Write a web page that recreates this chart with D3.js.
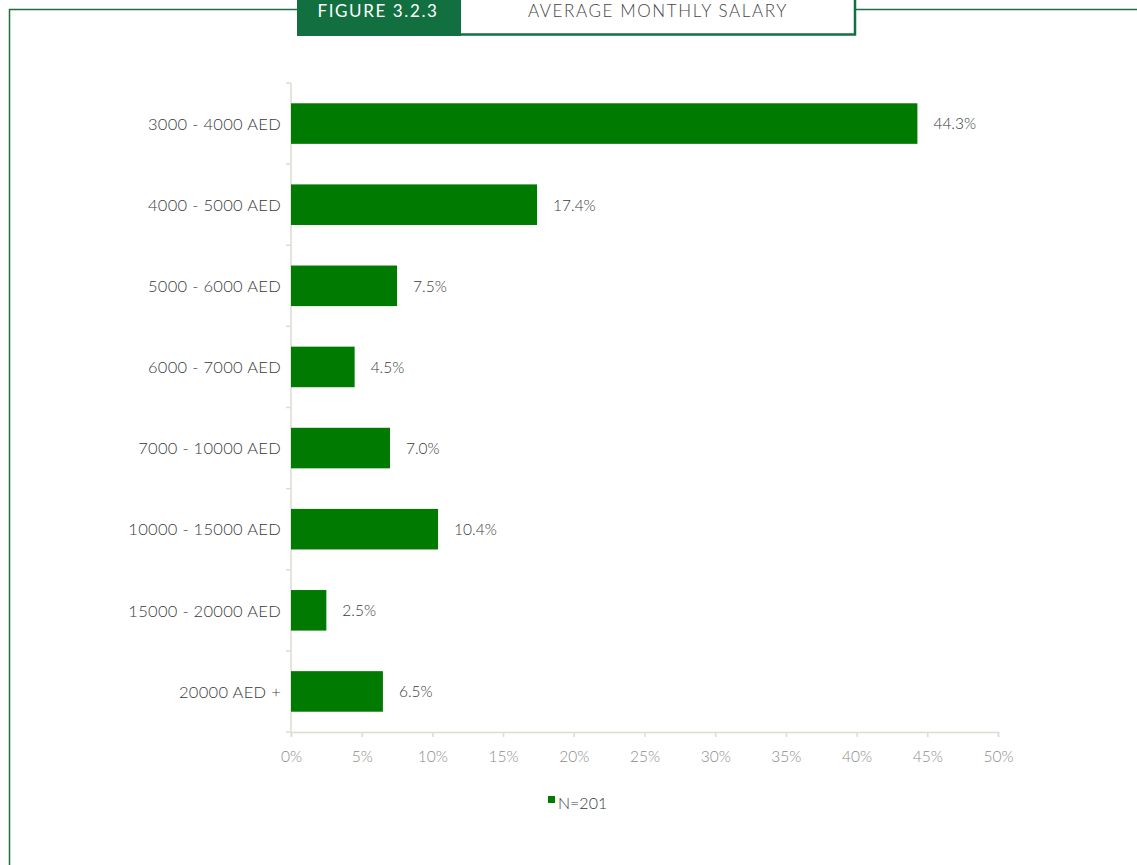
<!DOCTYPE html>
<html><head><meta charset="utf-8">
<script src="https://cdn.jsdelivr.net/npm/d3@7"></script>
<style>body{margin:0;background:#fff;} svg{display:block;}</style>
</head><body>
<svg id="chart" width="1137" height="865"></svg>
<script>
const categories = ["3000 - 4000 AED","4000 - 5000 AED","5000 - 6000 AED","6000 - 7000 AED","7000  - 10000 AED","10000 - 15000 AED","15000 - 20000 AED","20000 AED +"];
const values = [44.3, 17.4, 7.5, 4.5, 7.0, 10.4, 2.5, 6.5];
const valueLabels = ["44.3%","17.4%","7.5%","4.5%","7.0%","10.4%","2.5%","6.5%"];
const xTicks = [0,5,10,15,20,25,30,35,40,45,50];
const seriesName = "N=201";
const figureLabel = "FIGURE 3.2.3";
const title = "AVERAGE MONTHLY SALARY";

const svg = d3.select("#chart");
const font = "Lato, 'Open Sans', sans-serif";
const frameGreen = "#1d6f42";

// frame
svg.append("path").attr("d","M9.5,865 V9.5 H298 M856,9.5 H1137")
  .attr("fill","none").attr("stroke",frameGreen).attr("stroke-width",1.5);
svg.append("rect").attr("x",297).attr("y",0).attr("width",164).attr("height",36).attr("fill","#127040");
svg.append("path").attr("d","M461,34.5 H855 V0").attr("fill","none").attr("stroke","#127040").attr("stroke-width",2.5);
svg.append("text").attr("x",378).attr("y",16.5).attr("text-anchor","middle").attr("fill","#fff")
  .attr("font-family",font).attr("font-weight",400).attr("font-size",17).attr("letter-spacing",1.6).text(figureLabel);
svg.append("text").attr("x",658).attr("y",16.5).attr("text-anchor","middle").attr("fill","#444")
  .attr("font-family",font).attr("font-weight",300).attr("font-size",17).attr("letter-spacing",1.6).text(title);

const x = d3.scaleLinear().domain([0,50]).range([291,998]);
const y = d3.scaleBand().domain(categories).range([83,732]).paddingInner(0.5).paddingOuter(0.25);

const axisColor = "#dcdcd2";
const g = svg.append("g");
g.append("line").attr("x1",291).attr("x2",291).attr("y1",83).attr("y2",732).attr("stroke",axisColor).attr("stroke-width",1.5);
d3.range(categories.length+1).forEach(i=>{
  const yy = 83 + i*(649/categories.length);
  g.append("line").attr("x1",286).attr("x2",291).attr("y1",yy).attr("y2",yy).attr("stroke",axisColor).attr("stroke-width",1.5);
});
const xa = svg.append("g").attr("transform","translate(0,732)")
  .call(d3.axisBottom(x).tickValues(xTicks).tickSize(5).tickFormat(d=>d+"%"));
xa.select(".domain").attr("stroke",axisColor).attr("stroke-width",1.5);
xa.selectAll(".tick line").attr("stroke",axisColor).attr("stroke-width",1.5);
xa.selectAll(".tick text").attr("fill","#8c8c8c").attr("font-family",font).attr("font-weight",300).attr("font-size",15.5).attr("dy","1.45em");

svg.selectAll("rect.bar").data(values).join("rect").attr("class","bar")
  .attr("x",x(0)).attr("y",(d,i)=>y(categories[i]))
  .attr("width",d=>x(d)-x(0)).attr("height",y.bandwidth()).attr("fill","#007a00");

svg.selectAll("text.cat").data(categories).join("text").attr("class","cat")
  .attr("x",281).attr("y",d=>y(d)+y.bandwidth()/2).attr("dy","0.38em").attr("text-anchor","end")
  .attr("fill","#3a3a3a").attr("font-family",font).attr("font-weight",300).attr("font-size",16.5).attr("letter-spacing",0.3).text(d=>d);

svg.selectAll("text.val").data(values).join("text").attr("class","val")
  .attr("x",d=>x(d)+16).attr("y",(d,i)=>y(categories[i])+y.bandwidth()/2).attr("dy","0.38em")
  .attr("fill","#3a3a3a").attr("font-family",font).attr("font-weight",300).attr("font-size",15.5).text((d,i)=>valueLabels[i]);

svg.append("rect").attr("x",548).attr("y",796).attr("width",7).attr("height",7).attr("fill","#007a00");
svg.append("text").attr("x",558).attr("y",803).attr("dy","0.35em").attr("fill","#3a3a3a")
  .attr("font-family",font).attr("font-weight",300).attr("font-size",16).text(seriesName);
</script>
</body></html>
